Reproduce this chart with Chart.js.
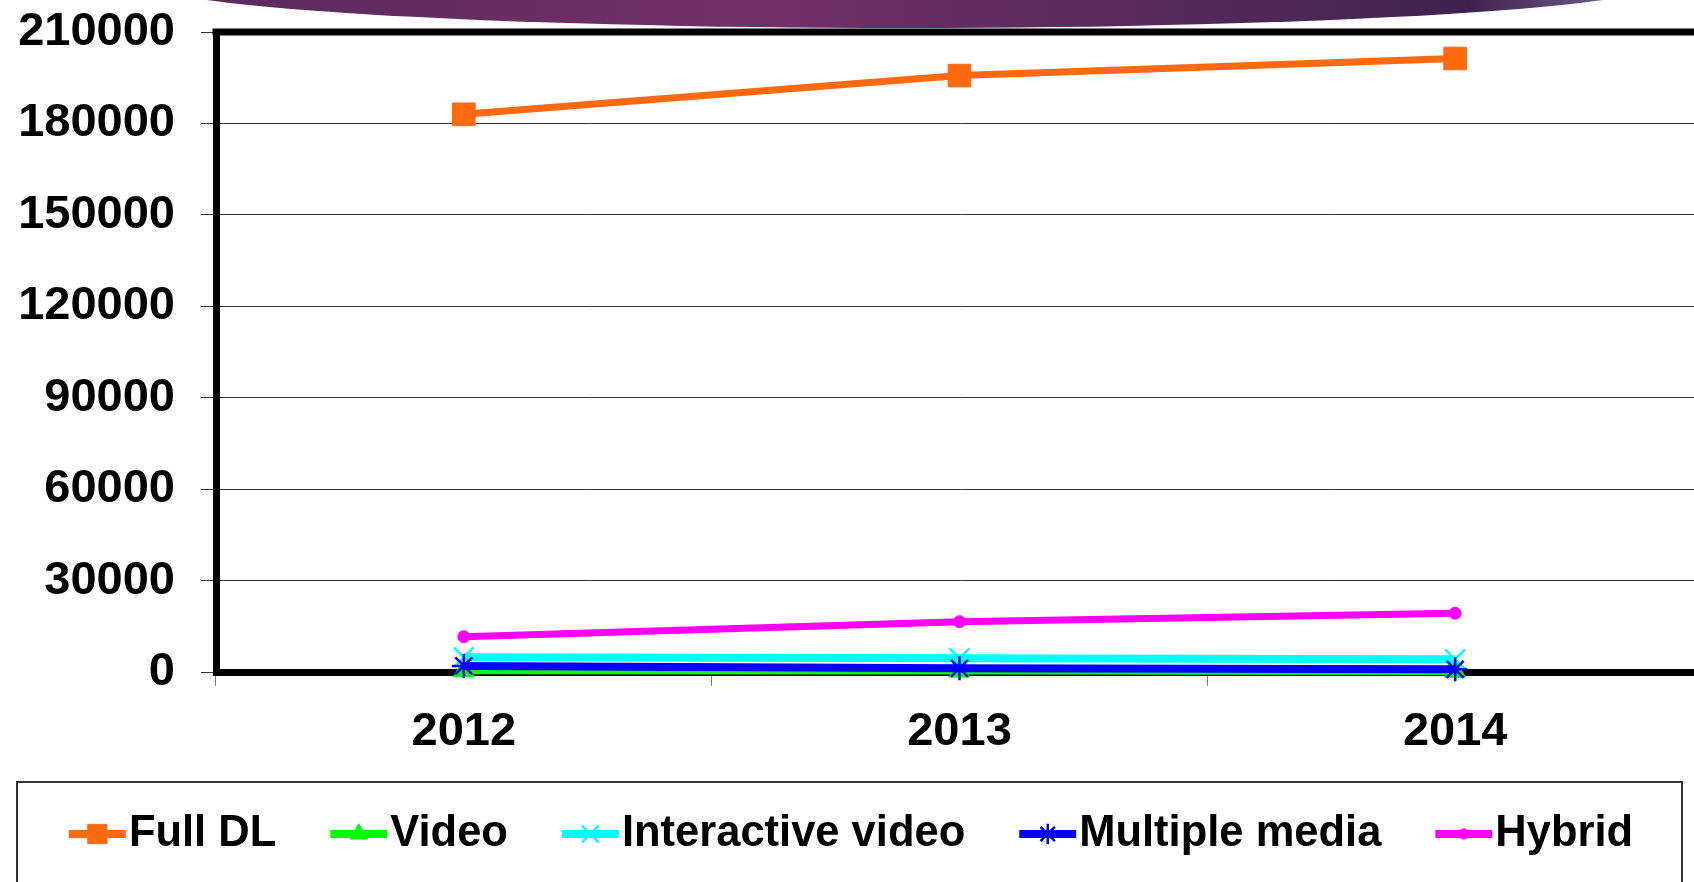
<!DOCTYPE html>
<html>
<head>
<meta charset="utf-8">
<script src="https://cdn.jsdelivr.net/npm/chart.js@4"></script>
<style>
  html, body { margin: 0; padding: 0; background: #fff; overflow: hidden; }
  #wrap { position: relative; width: 1720px; height: 882px; }
</style>
</head>
<body>
<div id="wrap"><canvas id="chart"></canvas></div>
<script>
// Data
const years = ['2012', '2013', '2014'];
const fullDL = [183000, 195700, 201300];
const video = [400, 300, 200];
const interactiveVideo = [4800, 4500, 4200];
const multipleMedia = [2000, 1200, 900];
const hybrid = [11600, 16500, 19300];
const stray = [0, null, null]; // red marker under 2012, no legend entry

const FONT = "'Liberation Sans', Arial, sans-serif";

function series(label, data, color, style, radius, width, order) {
  return {
    label: label,
    data: data,
    borderColor: color,
    backgroundColor: color,
    borderWidth: width,
    pointStyle: style,
    pointRadius: radius,
    pointBackgroundColor: color,
    pointBorderColor: color,
    pointBorderWidth: (style === 'crossRot' || style === 'star') ? 2.5 : 1,
    tension: 0,
    clip: false,
    order: order
  };
}

// Purple banner at the top of the slide
const banner = {
  id: 'banner',
  beforeDraw(chart) {
    const ctx = chart.ctx;
    ctx.save();
    const g = ctx.createLinearGradient(200, 0, 1610, 0);
    g.addColorStop(0, '#5c2a5c');
    g.addColorStop(0.4, '#72306a');
    g.addColorStop(0.8, '#4b2656');
    g.addColorStop(0.9, '#3e2350');
    g.addColorStop(1, '#6e5c88');
    ctx.fillStyle = g;
    ctx.beginPath();
    ctx.ellipse(905, -20, 768, 48, 0, 0, Math.PI * 2);
    ctx.fill();
    ctx.restore();
  }
};

// Thick top edge of the plot frame
const frame = {
  id: 'frame',
  beforeDatasetsDraw(chart) {
    const a = chart.chartArea;
    const ctx = chart.ctx;
    ctx.save();
    ctx.strokeStyle = '#000';
    ctx.lineWidth = 7;
    ctx.beginPath();
    ctx.moveTo(a.left - 3.5, a.top);
    ctx.lineTo(a.right + 10, a.top);
    ctx.stroke();
    ctx.restore();
  }
};

// Boxed legend with line + marker samples
const legendBox = {
  id: 'legendBox',
  afterDraw(chart) {
    const ctx = chart.ctx;
    ctx.save();
    ctx.strokeStyle = '#333';
    ctx.lineWidth = 2;
    ctx.strokeRect(17, 782, 1665, 140);

    ctx.font = 'bold 43.5px ' + FONT;
    ctx.textBaseline = 'middle';
    const items = chart.data.datasets.filter(d => d.label);
    const lineW = 57, gapText = 3, gapItem = 54;
    let total = 0;
    items.forEach((d, i) => {
      total += lineW + gapText + ctx.measureText(d.label).width;
      if (i > 0) total += gapItem;
    });
    let x = 851 - total / 2;
    const y = 834;
    items.forEach(d => {
      ctx.strokeStyle = d.borderColor;
      ctx.lineWidth = 8;
      ctx.beginPath();
      ctx.moveTo(x, y);
      ctx.lineTo(x + lineW, y);
      ctx.stroke();
      ctx.fillStyle = d.pointBackgroundColor;
      ctx.strokeStyle = d.pointBorderColor;
      ctx.lineWidth = d.pointBorderWidth;
      Chart.helpers.drawPoint(ctx, {
        pointStyle: d.pointStyle,
        radius: d.pointRadius * 0.85,
        borderWidth: d.pointBorderWidth,
        rotation: 0
      }, x + lineW / 2, y);
      x += lineW + gapText;
      ctx.fillStyle = '#000';
      ctx.fillText(d.label, x, y);
      x += ctx.measureText(d.label).width + gapItem;
    });
    ctx.restore();
  }
};

const ctx = document.getElementById('chart').getContext('2d');
new Chart(ctx, {
  type: 'line',
  data: {
    labels: years,
    datasets: [
      series('Full DL', fullDL, '#ff6a10', 'rect', 16, 7, 6),
      series('Video', video, '#00ff00', 'triangle', 12, 7, 5),
      series('Interactive video', interactiveVideo, '#00ffff', 'crossRot', 14, 8, 4),
      series('Multiple media', multipleMedia, '#0000ff', 'star', 12, 8, 3),
      series('Hybrid', hybrid, '#ff00ff', 'circle', 6, 7, 2),
      series('', stray, '#ff0000', 'rectRot', 6, 0, 7)
    ]
  },
  options: {
    responsive: true,
    maintainAspectRatio: false,
    animation: false,
    layout: { padding: { top: 32, right: 13, bottom: 0, left: 0 } },
    plugins: {
      legend: { display: false },
      tooltip: { enabled: false }
    },
    scales: {
      x: {
        offset: true,
        grid: {
          offset: true,
          drawOnChartArea: false,
          color: '#808080',
          tickLength: 14
        },
        border: { display: true, color: '#000', width: 7 },
        ticks: {
          color: '#000',
          padding: 18,
          font: { family: FONT, size: 47, weight: 'bold' }
        },
        afterFit(scale) { scale.height = 210; }
      },
      y: {
        min: 0,
        max: 210000,
        grid: {
          color: '#333',
          lineWidth: 1,
          tickLength: 15
        },
        border: { display: true, color: '#000', width: 7 },
        ticks: {
          stepSize: 30000,
          color: '#000',
          padding: 26,
          font: { family: FONT, size: 47, weight: 'bold' },
          callback: v => String(v)
        },
        afterFit(scale) {
          scale.width = 216;
          scale.paddingTop = 0;
          scale.paddingBottom = 0;
        }
      }
    }
  },
  plugins: [banner, frame, legendBox]
});
</script>
</body>
</html>
